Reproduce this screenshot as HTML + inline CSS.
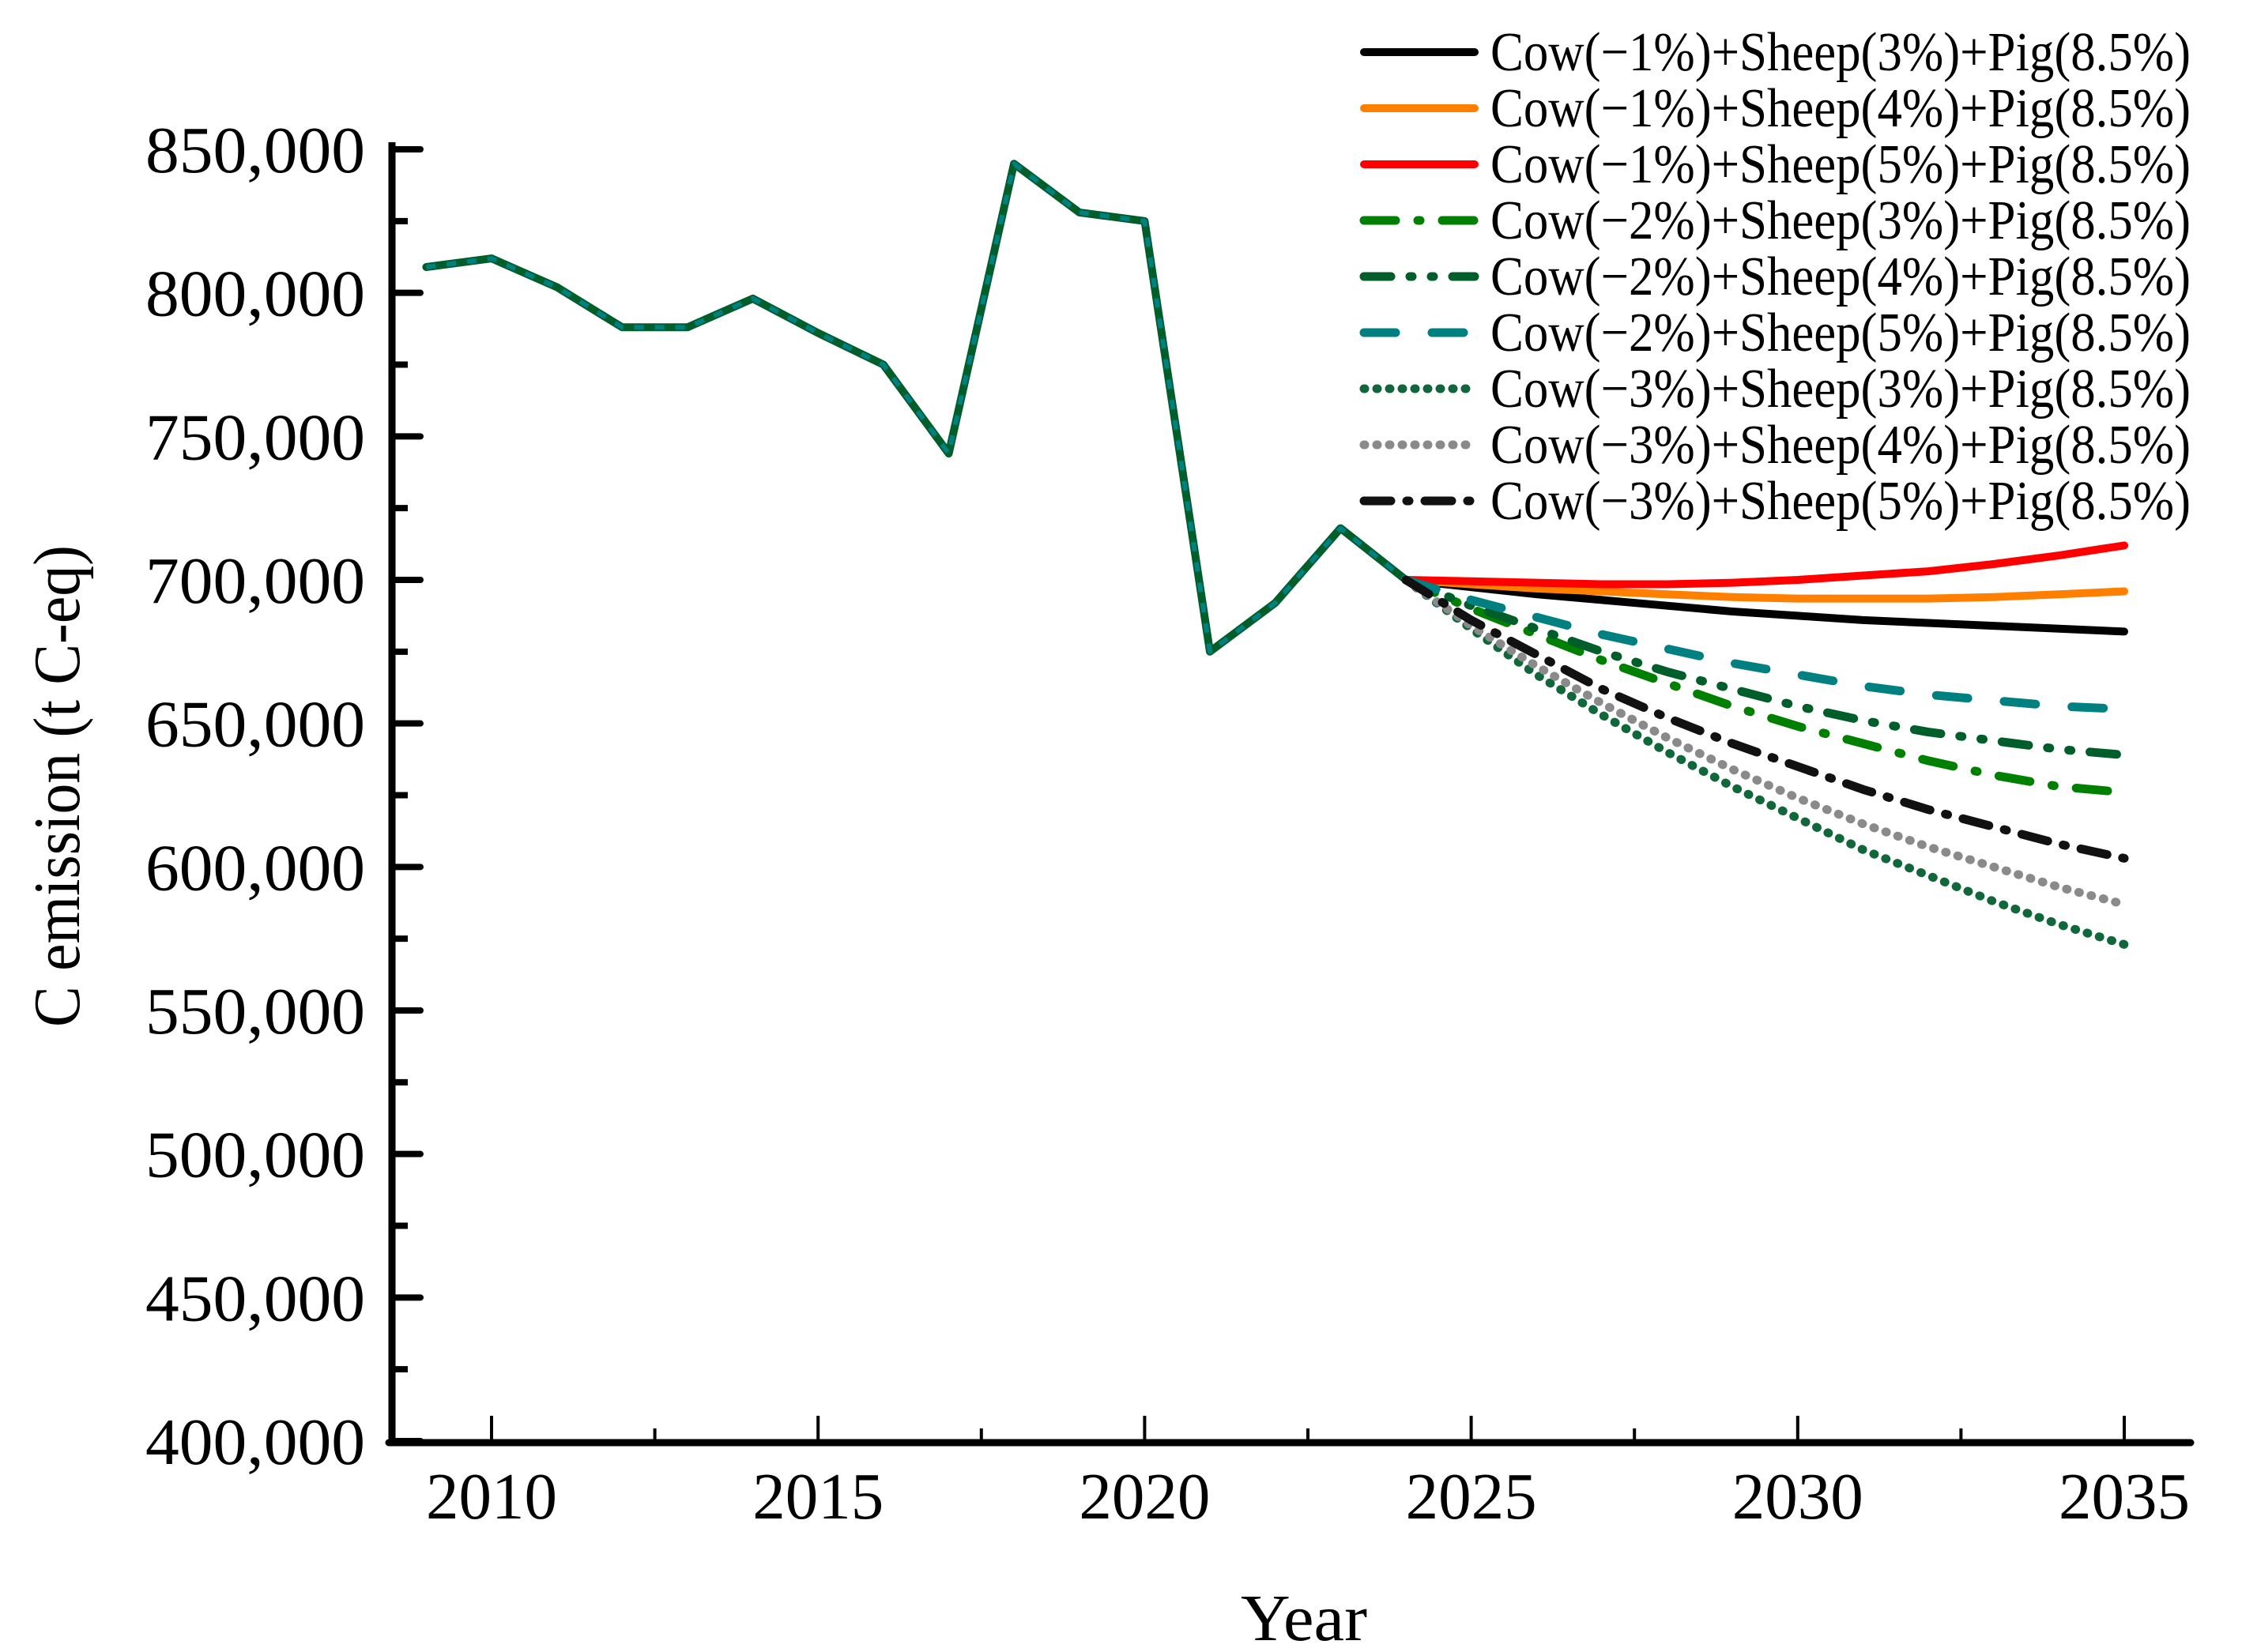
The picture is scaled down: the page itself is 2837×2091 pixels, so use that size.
<!DOCTYPE html>
<html><head><meta charset="utf-8"><style>
html,body{margin:0;padding:0;background:#fff;}
svg{display:block;font-family:"Liberation Serif",serif;}
</style></head><body>
<svg id="chart" width="2837" height="2091" viewBox="0 0 2837 2091" xmlns="http://www.w3.org/2000/svg">
<rect width="2837" height="2091" fill="#fff"/>
<g id="plot"></g>
<g id="axes"></g>
<g id="legend"></g>
<text x="1650" y="2076" font-size="84" text-anchor="middle" textLength="160" lengthAdjust="spacingAndGlyphs">Year</text>
<text transform="translate(100,995) rotate(-90)" font-size="84" text-anchor="middle" textLength="610" lengthAdjust="spacingAndGlyphs">C emission (t C-eq)</text>
</svg>
<script>
const histYears = [2009,2010,2011,2012,2013,2014,2015,2016,2017,2018,2019,2020,2021,2022,2023,2024];
const histValues = [809000,812000,802000,788000,788000,798000,786000,775000,744000,845000,828000,825000,675000,692000,718000,700000];
const projYears = [2024,2025,2026,2027,2028,2029,2030,2031,2032,2033,2034,2035];
const s1 = [700000,697500,695000,693000,691000,689000,687500,686000,685000,684000,683000,682000];
const s2 = [700000,698500,697000,696000,695000,694000,693500,693500,693500,694000,695000,696000];
const s3 = [700000,699500,699000,698500,698500,699000,700000,701500,703000,705500,708500,712000];
const s4 = [700000,690000,681000,672000,664000,656000,649000,643000,637000,632000,628000,626000];
const s5 = [700000,691000,683000,675000,668000,662000,656000,651000,647000,644000,641000,639000];
const s6 = [700000,693000,687000,681000,676000,671000,667000,663000,660000,658000,656000,655000];
const s7 = [700000,683000,667000,653000,640000,628000,617000,606000,597000,588000,580000,573000];
const s8 = [700000,684000,670000,657000,645000,634000,624000,615000,607000,600000,593000,587000];
const s9 = [700000,686000,674000,662000,652000,643000,635000,627000,620000,614000,608000,603000];
const seriesLabels = ["Cow(\u22121%)+Sheep(3%)+Pig(8.5%)","Cow(\u22121%)+Sheep(4%)+Pig(8.5%)","Cow(\u22121%)+Sheep(5%)+Pig(8.5%)","Cow(\u22122%)+Sheep(3%)+Pig(8.5%)","Cow(\u22122%)+Sheep(4%)+Pig(8.5%)","Cow(\u22122%)+Sheep(5%)+Pig(8.5%)","Cow(\u22123%)+Sheep(3%)+Pig(8.5%)","Cow(\u22123%)+Sheep(4%)+Pig(8.5%)","Cow(\u22123%)+Sheep(5%)+Pig(8.5%)"];
const yTicks = [400000,450000,500000,550000,600000,650000,700000,750000,800000,850000];
const yTickLabels = ["400,000","450,000","500,000","550,000","600,000","650,000","700,000","750,000","800,000","850,000"];
const xTicks = [2010,2015,2020,2025,2030,2035];
const xTickLabels = ["2010","2015","2020","2025","2030","2035"];

const NS="http://www.w3.org/2000/svg";
const X0=496,X1=2772,Y0=1826;
function xs(yr){return 622+(yr-2010)*(2688-622)/25;}
function ys(v){return 1824-(v-400000)*(1824-189)/450000;}
function mk(tag,attrs,parent){const e=document.createElementNS(NS,tag);for(const k in attrs)e.setAttribute(k,attrs[k]);parent.appendChild(e);return e;}

const styles=[
 {c:"#000",d:"",w:10},
 {c:"#ff8000",d:"",w:10},
 {c:"#ff0000",d:"",w:10},
 {c:"#008000",d:"40 28 3 28",w:11},
 {c:"#005e2b",d:"34 24 3 24 3 24",w:11},
 {c:"#008080",d:"40 46",w:11},
 {c:"#10673a",d:"1 15",w:11},
 {c:"#8a8a8a",d:"1 15",w:11},
 {c:"#111",d:"34 20 3 20",w:11}
];
const projData=[s1,s2,s3,s4,s5,s6,s7,s8,s9];
const plot=document.getElementById('plot');
let hp=histYears.map((y,i)=>(i?'L':'M')+xs(y).toFixed(1)+','+ys(histValues[i]).toFixed(1)).join(' ');
const h1=mk('path',{d:hp,fill:'none',stroke:'#005e2b','stroke-width':10,'stroke-linejoin':'round','stroke-linecap':'round'},plot);


const h2=mk('path',{d:hp,fill:'none',stroke:'#008080','stroke-width':6,'stroke-dasharray':'12 14','stroke-linejoin':'round'},plot);


projData.forEach((arr,k)=>{
 const st=styles[k];
 const d=projYears.map((y,i)=>(i?'L':'M')+xs(y).toFixed(1)+','+ys(arr[i]).toFixed(1)).join(' ');
 const p=mk('path',{d:d,fill:'none',stroke:st.c,'stroke-width':st.w,'stroke-linecap':'round','stroke-linejoin':'round'},plot);
 if(st.d)p.setAttribute('stroke-dasharray',st.d);
 
 
});
const ax=document.getElementById('axes');
const yl=mk('line',{x1:X0,y1:180,x2:X0,y2:Y0+4,stroke:'#000','stroke-width':9},ax);


const xl=mk('line',{x1:X0-4,y1:Y0,x2:X1,y2:Y0,stroke:'#000','stroke-width':9,'stroke-linecap':'round'},ax);


yTicks.forEach((v,i)=>{
 const y=ys(v);
 const t=mk('line',{x1:X0,y1:y,x2:X0+36,y2:y,stroke:'#000','stroke-width':8,'stroke-linecap':'round'},ax);
 
 
 if(i<yTicks.length-1){const m=mk('line',{x1:X0,y1:ys(v+25000),x2:X0+20,y2:ys(v+25000),stroke:'#000','stroke-width':8},ax);
 
 }
 const tx=mk('text',{x:462,y:y+29,'font-size':84,'text-anchor':'end',textLength:278,lengthAdjust:'spacingAndGlyphs'},ax);
 tx.textContent=yTickLabels[i];
 
 
});
xTicks.forEach((yr,i)=>{
 const x=xs(yr);
 const t=mk('line',{x1:x,y1:Y0,x2:x,y2:Y0-34,stroke:'#000','stroke-width':4},ax);
 
 
 if(i<xTicks.length-1){const m=mk('line',{x1:xs(yr+2.5),y1:Y0,x2:xs(yr+2.5),y2:Y0-18,stroke:'#000','stroke-width':4},ax);
 
 }
 const tx=mk('text',{x:x,y:1922,'font-size':84,'text-anchor':'middle',textLength:166,lengthAdjust:'spacingAndGlyphs'},ax);
 tx.textContent=xTickLabels[i];
 
 
});
const lg=document.getElementById('legend');
const rowsY=[66,137,208,279,350,421,492,563,634];
seriesLabels.forEach((lab,k)=>{
 const st=styles[k];
 const g=mk('g',{},lg);
 
 
 const l=mk('line',{x1:1726,y1:rowsY[k],x2:1866,y2:rowsY[k],stroke:st.c,'stroke-width':st.w,'stroke-linecap':'round'},g);
 if(st.d)l.setAttribute('stroke-dasharray',st.d);
 
 
 const t=mk('text',{x:1886,y:rowsY[k]+23,'font-size':70,textLength:886,lengthAdjust:'spacingAndGlyphs'},g);
 t.textContent=lab;
 
 
});
</script>
</body></html>
